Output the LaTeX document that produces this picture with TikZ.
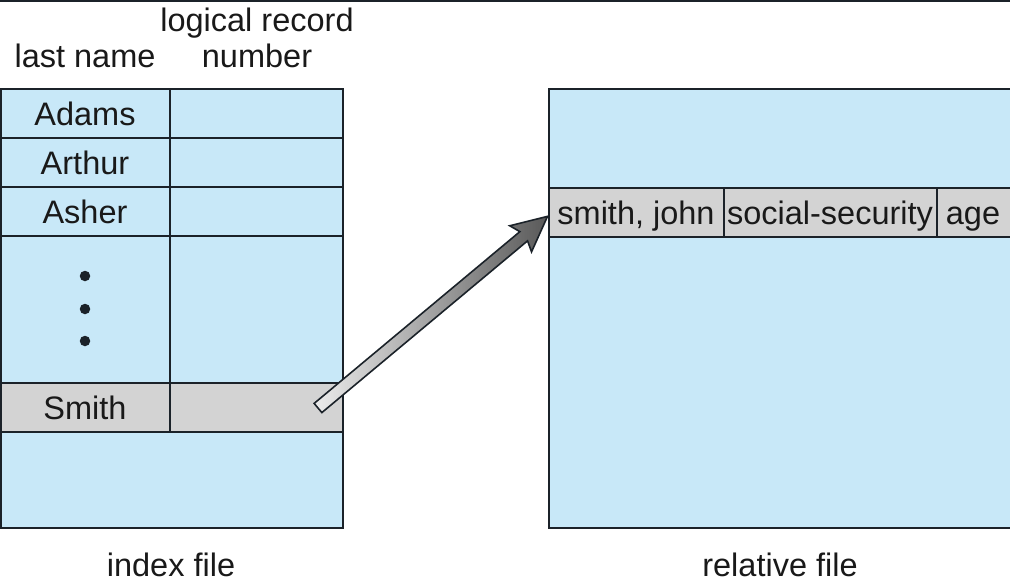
\documentclass[tikz,border=0pt]{standalone}
\usepackage{fontspec}
\setmainfont{Liberation Sans}
\definecolor{fileblue}{HTML}{C8E8F8}
\definecolor{rowgray}{HTML}{D3D3D3}
\definecolor{edge}{HTML}{1B2229}
\begin{document}
\begin{tikzpicture}[x=1pt,y=1pt,
  cell/.style={draw=edge,line width=1.8pt,fill=fileblue,inner sep=0pt},
  graycell/.style={draw=edge,line width=1.8pt,fill=rowgray,inner sep=0pt},
  txt/.style={font=\fontsize{32.5}{36}\selectfont,text=black!90,inner sep=0pt,align=center,text height=23pt,text depth=0pt},
  dot/.style={circle,fill=edge,inner sep=0pt,minimum size=10.5pt}]
\useasboundingbox (0,0) rectangle (1010,-581);
\draw[edge,line width=1.5pt] (0,-1) -- (1010,-1);
% headers
\node[txt] (hlast) at (85,-56) {last name};
\node[txt] (hlog) at (257,-20) {logical record};
\node[txt] (hnum) at (257,-56) {number};
% index file
\path[cell] (1,-89) rectangle (343,-528);
\path[cell] (1,-89) rectangle (170,-138);
\path[cell] (170,-89) rectangle (343,-138);
\path[cell] (1,-138) rectangle (170,-187);
\path[cell] (170,-138) rectangle (343,-187);
\path[cell] (1,-187) rectangle (170,-236);
\path[cell] (170,-187) rectangle (343,-236);
\path[cell] (1,-236) rectangle (170,-383);
\path[cell] (170,-236) rectangle (343,-383);
\path[graycell] (1,-383) rectangle (170,-432);
\path[graycell] (170,-383) rectangle (343,-432);
\node[txt] (adams) at (85,-114) {Adams};
\node[txt] (arthur) at (85,-163) {Arthur};
\node[txt] (asher) at (85,-212) {Asher};
\node[dot] (d1) at (85,-276) {};
\node[dot] (d2) at (85,-309) {};
\node[dot] (d3) at (85,-341) {};
\node[txt] (smith) at (85,-408) {Smith};
\node[txt] (index) at (171,-565) {index file};
% relative file
\path[cell] (549,-89) rectangle (1014,-528);
\path[graycell] (549,-188) rectangle (724,-237);
\path[graycell] (724,-188) rectangle (937,-237);
\path[graycell] (937,-188) rectangle (1014,-237);
\node[txt] (sj) at (636,-213) {smith, john};
\node[txt] (ss) at (830,-213) {social-security};
\node[txt] (age) at (973,-213) {age};
\node[txt] (rel) at (780,-565) {relative file};
% arrow
\coordinate (tail) at (318,-408);
\coordinate (tip) at (548,-216);
\begin{scope}[shift={(tail)},rotate=39.86]
\shade[left color=gray!15,right color=black!65,draw=edge,line width=1.6pt,line join=miter]
  (0,-6) -- (268,-6) -- (264,-17) -- (299,0) -- (264,17) -- (268,6) -- (0,6) -- cycle;
\end{scope}
\end{tikzpicture}
\end{document}
